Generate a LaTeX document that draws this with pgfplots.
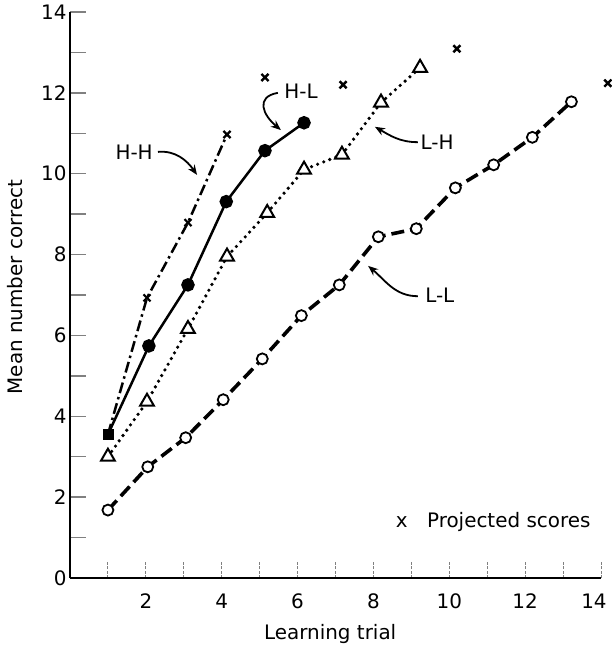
\documentclass[border=0pt]{standalone}
\usepackage{fontspec}
\setmainfont{DejaVu Sans}
\usepackage{pgfplots}
\pgfplotsset{compat=1.18}
\usetikzlibrary{arrows.meta}
\begin{document}
\begin{tikzpicture}[font=\fontsize{20}{24}\selectfont]
\begin{axis}[
 at={(0,0)}, anchor=south west,
 scale only axis, width=531bp, height=566bp,
 xmin=0, xmax=14, ymin=0, ymax=14,
 axis x line=bottom, axis y line=left,
 axis line style={-, line width=1.6bp},
 tick align=inside,
 major tick length=16bp,
 xtick={1,...,14}, xticklabels={,2,,4,,6,,8,,10,,12,,\hspace*{-14bp}14},
 ytick={0,...,14}, yticklabels={0,,2,,4,,6,,8,,10,,12,,14},
 xtick style={line width=1bp, dash pattern=on 3bp off 1.5bp},
 ytick style={line width=1.5bp},
 tick label style={font=\fontsize{20}{24}\selectfont},
 xticklabel style={yshift=-12bp},
 label style={font=\fontsize{20}{24}\selectfont},
 xlabel={Learning trial}, ylabel={Mean number correct},
 xlabel style={at={(axis description cs:0.49,-0.099)}, anchor=center},
 ylabel style={at={(axis description cs:-0.1036,0.514)}, anchor=center},
 clip=false,
 /pgf/number format/assume math mode=true,
]
% H-H (dash-dot)
\addplot[line width=2.5bp, dash pattern=on 11bp off 4bp on 2.5bp off 4bp,
  mark=x, mark size=5bp, mark indices={2,3,4}, mark options={solid, line width=2.2bp}]
  coordinates {(1,3.55) (2.03,6.93) (3.11,8.79) (4.14,10.97)};
% H-L (solid)
\addplot[line width=2.5bp, mark=*, mark size=5.5bp, mark indices={2,3,4,5,6}, mark options={solid}]
  coordinates {(1,3.55) (2.08,5.74) (3.11,7.25) (4.12,9.31) (5.14,10.57) (6.17,11.26)};
\addplot[only marks, mark=square*, mark size=5bp] coordinates {(1,3.55)};
% L-H (dotted)
\addplot[line width=3.6bp, line cap=round, dash pattern=on 0bp off 6.5bp,
  mark=triangle*, mark size=8bp, mark options={solid, fill=white, line width=2bp, line cap=butt}]
  coordinates {(1,3.0) (2.03,4.36) (3.11,6.16) (4.14,7.95) (5.2,9.03) (6.17,10.1) (7.17,10.47) (8.2,11.76) (9.23,12.62)};
% L-L (dashed)
\addplot[line width=3.6bp, dash pattern=on 13bp off 6bp,
  mark=*, mark size=5.5bp, mark options={solid, fill=white, line width=1.8bp}]
  coordinates {(1,1.68) (2.05,2.75) (3.05,3.47) (4.04,4.41) (5.07,5.42) (6.1,6.49) (7.1,7.25) (8.13,8.44) (9.13,8.64) (10.16,9.65) (11.17,10.22) (12.19,10.9) (13.22,11.78)};
% projected scores
\addplot[only marks, mark=x, mark size=5bp, line width=2.4bp]
  coordinates {(5.14,12.38) (7.2,12.2) (10.2,13.09) (14.18,12.24)};
% labels and arrows
\node[font=\fontsize{20}{24}\selectfont] at (axis cs:1.69,10.54) {H-H};
\draw[line width=1.8bp, -{Stealth[length=10bp,width=8bp]}] (axis cs:2.32,10.54) to[out=5,in=125] (axis cs:3.35,9.97);
\node[font=\fontsize{20}{24}\selectfont] at (axis cs:6.09,12.05) {H-L};
\draw[line width=1.8bp, -{Stealth[length=10bp,width=8bp]}] (axis cs:5.48,12.0) to[out=190,in=140,looseness=1.6] (axis cs:5.56,11.08);
\node[font=\fontsize{20}{24}\selectfont] at (axis cs:9.68,10.78) {L-H};
\draw[line width=1.8bp, -{Stealth[length=10bp,width=8bp]}] (axis cs:9.17,10.78) to[out=180,in=-30] (axis cs:8.04,11.16);
\node[font=\fontsize{20}{24}\selectfont] at (axis cs:9.75,7.0) {L-L};
\draw[line width=1.8bp, -{Stealth[length=10bp,width=8bp]}] (axis cs:9.17,6.97) to[out=180,in=-40] (axis cs:7.86,7.72);
\node[font=\fontsize{20}{24}\selectfont, anchor=base] at (axis cs:8.75,1.26) {x};
\node[font=\fontsize{20}{24}\selectfont, anchor=base west, inner sep=0pt] at (axis cs:9.41,1.26) {Projected scores};
\end{axis}
\pgfresetboundingbox
\path[use as bounding box] (-70bp,-71bp) rectangle (542bp,578bp);
\end{tikzpicture}
\end{document}
